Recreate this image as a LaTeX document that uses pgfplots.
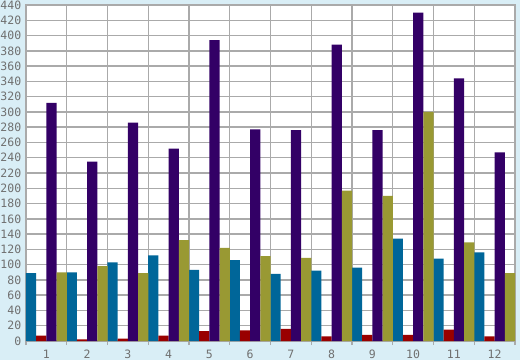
\documentclass[border=0pt]{standalone}
\usepackage{pgfplots}
\pgfplotsset{compat=1.18}
\usepackage{fontspec}
\setmainfont{DejaVu Sans Mono}
\definecolor{bgc}{HTML}{D9EEF6}
\definecolor{gridc}{HTML}{AAAAAA}
\definecolor{txt}{HTML}{707070}
\definecolor{cblue}{HTML}{006699}
\definecolor{cred}{HTML}{990000}
\definecolor{cpurple}{HTML}{330066}
\definecolor{colive}{HTML}{999933}
\begin{document}
\begin{tikzpicture}
\fill[bgc] (0,0) rectangle (520pt,360pt);
\begin{axis}[
  at={(26pt,19pt)}, anchor=south west,
  scale only axis, width=489pt, height=336pt,
  xmin=0.5, xmax=12.5, ymin=0, ymax=440,
  ybar=0pt, bar width=10.19pt,
  xtick={1,...,12},
  minor xtick={0.5,1.5,...,12.5},
  xminorgrids=true,
  ytick distance=20,
  ymajorgrids=true,
  grid style={gridc, line width=1.4pt},
  minor grid style={gridc, line width=1.4pt},
  axis line style={gridc, line width=1.4pt},
  axis background/.style={fill=white},
  major x tick style={draw=none},
  minor x tick style={gridc, line width=1.4pt},
  minor tick length=4pt,
  major y tick style={draw=none},
  tick align=outside,
  xtick pos=bottom, ytick pos=left,
  ticklabel style={font=\fontsize{11.5}{12}\selectfont, text=txt},
  /pgf/number format/assume math mode=true,
  xticklabel style={yshift=-1pt},
  yticklabel style={xshift=3pt},
]
\addplot[fill=cblue, draw=none] coordinates {(1,89) (2,90) (3,103) (4,112) (5,93) (6,106) (7,88) (8,92) (9,96) (10,134) (11,108) (12,116)};
\addplot[fill=cred, draw=none] coordinates {(1,7) (2,2) (3,3) (4,7) (5,13) (6,14) (7,16) (8,6) (9,8) (10,8) (11,15) (12,6)};
\addplot[fill=cpurple, draw=none] coordinates {(1,312) (2,235) (3,286) (4,252) (5,394) (6,277) (7,276) (8,388) (9,276) (10,430) (11,344) (12,247)};
\addplot[fill=colive, draw=none] coordinates {(1,90) (2,98) (3,89) (4,132) (5,122) (6,111) (7,109) (8,197) (9,190) (10,300) (11,129) (12,89)};
\end{axis}
\pgfresetboundingbox
\useasboundingbox (0,0) rectangle (520pt,360pt);
\end{tikzpicture}
\end{document}
